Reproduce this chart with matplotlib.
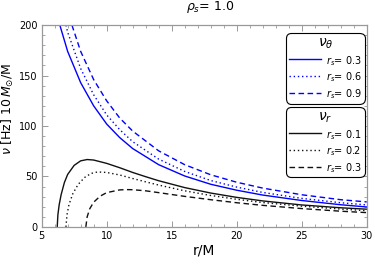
import matplotlib
matplotlib.use("Agg")
import matplotlib.pyplot as plt
from matplotlib.ticker import MultipleLocator

# nu_theta curves (blue)
r_th_03 = [6.4, 7, 8, 9, 10, 11, 12, 14, 16, 18, 20, 22, 25, 28, 30]
v_th_03 = [200, 174, 143, 120, 102, 88.6, 77.7, 61.7, 50.5, 42.3, 36.4, 31.6, 26.2, 22.0, 19.8]
r_th_06 = [6.87, 7, 8, 9, 10, 11, 12, 14, 16, 18, 20, 22, 25, 28, 30]
v_th_06 = [200, 193, 157, 131, 111, 96.5, 84.5, 67.2, 55, 46, 39.5, 34.2, 28.3, 24.0, 21.8]
r_th_09 = [7.33, 8, 9, 10, 11, 12, 14, 16, 18, 20, 22, 25, 28, 30]
v_th_09 = [200, 174, 146, 125, 108, 95, 75.4, 61.7, 51.7, 44.3, 38.5, 31.9, 27.0, 24.8]

# nu_r curves (black)
r_r_01 = [6.2, 6.25, 6.35, 6.5, 6.75, 7, 7.5, 8, 8.5, 9, 10, 11, 12, 13, 14, 16, 18, 20, 22, 25, 28, 30]
v_r_01 = [0, 12, 22, 32, 44, 52, 61, 65.5, 66.8, 66.3, 63, 58.7, 54, 49.8, 45.8, 39, 33.6, 29.3, 25.8, 21.8, 19, 17.6]
r_r_02 = [6.87, 6.95, 7.1, 7.4, 7.8, 8.3, 8.8, 9.3, 10, 11, 12, 13, 14, 16, 18, 20, 22, 25, 28, 30]
v_r_02 = [0, 12, 22, 33, 42, 49, 53, 54.5, 54, 51.5, 48, 44.7, 41.5, 35.8, 31.2, 27.4, 24.2, 20.6, 17.7, 16.1]
r_r_03 = [8.4, 8.5, 8.7, 9, 9.5, 10, 11, 11.5, 12, 13, 14, 16, 18, 20, 22, 25, 28, 30]
v_r_03 = [0, 10, 18, 24.5, 30.5, 34, 36.7, 37, 36.9, 35.8, 34, 30.3, 27, 24, 21.4, 18.2, 15.6, 14.2]

labels_th = ['0.3', '0.6', '0.9']
labels_r = ['0.1', '0.2', '0.3']

plt.rcParams['font.family'] = ['DejaVu Sans']
plt.rcParams['mathtext.fontset'] = 'dejavusans'

fig = plt.figure(figsize=(3.75, 2.67), dpi=100)
ax = fig.add_axes([0.111, 0.150, 0.867, 0.756])

l1, = ax.plot(r_th_03, v_th_03, color='#0000ff', lw=1.0, ls='-')
l2, = ax.plot(r_th_06, v_th_06, color='#0000ff', lw=1.0, ls=(0, (1, 2)))
l3, = ax.plot(r_th_09, v_th_09, color='#0000ff', lw=1.0, ls=(0, (4, 2.5)))
k1, = ax.plot(r_r_01, v_r_01, color='#111111', lw=1.0, ls='-')
k2, = ax.plot(r_r_02, v_r_02, color='#111111', lw=1.0, ls=(0, (1, 2)))
k3, = ax.plot(r_r_03, v_r_03, color='#111111', lw=1.0, ls=(0, (4, 2.5)))

ax.set_xlim(5, 30)
ax.set_ylim(0, 200)
ax.xaxis.set_major_locator(MultipleLocator(5))
ax.xaxis.set_minor_locator(MultipleLocator(1))
ax.yaxis.set_major_locator(MultipleLocator(50))
ax.yaxis.set_minor_locator(MultipleLocator(10))
ax.tick_params(which='both', direction='in', top=True, right=True,
               color='#999999', labelsize=7, pad=3)
ax.tick_params(which='major', length=4, width=0.7)
ax.tick_params(which='minor', length=2, width=0.6)
for s in ax.spines.values():
    s.set_color('#999999')
    s.set_linewidth(0.9)

ax.set_xlabel('r/M', fontsize=10, labelpad=2)
ax.set_ylabel(r'$\nu$ [Hz] 10$\,M_{\odot}$/M', fontsize=9)
ax.yaxis.set_label_coords(-0.08, 0.585)
fig.text(0.56, 0.972, r'$\rho_s$= 1.0', ha='center', va='center', fontsize=9)

leg_kw = dict(fontsize=7, frameon=True, fancybox=True, edgecolor='black',
              framealpha=1, handlelength=3.3, handletextpad=0.6,
              handleheight=1.6, borderpad=0.25, labelspacing=0.3,
              borderaxespad=0, title_fontsize=10, loc='upper left',
              bbox_transform=fig.transFigure)
leg1 = ax.legend([l1, l2, l3], [r'$r_s$= ' + s for s in labels_th],
                 title=r'$\nu_\theta$', bbox_to_anchor=(0.763, 0.876), **leg_kw)
leg1.get_frame().set_linewidth(0.8)
leg1.get_frame().set_boxstyle('round,pad=0,rounding_size=0.55')
ax.add_artist(leg1)
leg2 = ax.legend([k1, k2, k3], [r'$r_s$= ' + s for s in labels_r],
                 title=r'$\nu_r$', bbox_to_anchor=(0.763, 0.599), **leg_kw)
leg2.get_frame().set_linewidth(0.8)
leg2.get_frame().set_boxstyle('round,pad=0,rounding_size=0.55')

fig.savefig('out.png', dpi=100)
